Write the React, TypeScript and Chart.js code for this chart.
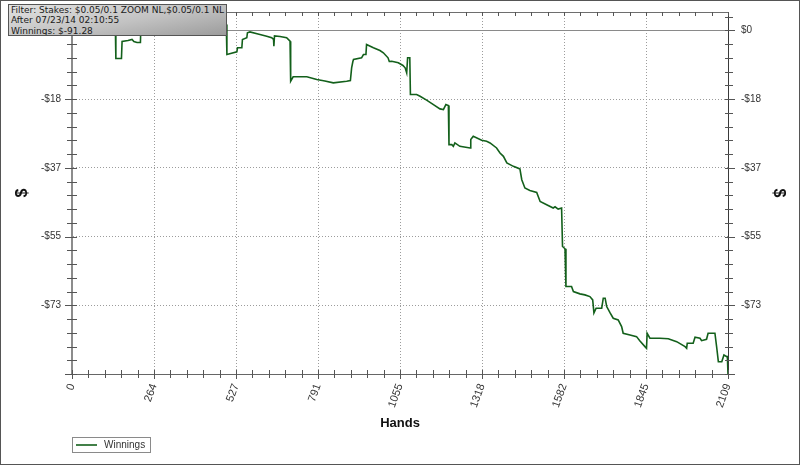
import React, { useEffect, useRef } from 'react';
import { Chart, registerables } from 'chart.js';

Chart.register(...registerables);

// ---- data ----
const hands = [
  0, 26, 58, 90, 116, 129, 139, 141, 159, 161, 180, 193, 199, 209, 220, 222, 283, 347, 412, 460,
  496, 498, 530, 532, 546, 548, 562, 564, 572, 598, 626, 642, 648, 649, 651, 669, 690, 701, 703, 711,
  755, 787, 813, 840, 883, 895, 899, 903, 905, 931, 937, 945, 947, 969, 990, 1001, 1016, 1020, 1028, 1049,
  1064, 1071, 1076, 1079, 1086, 1088, 1108, 1119, 1140, 1162, 1183, 1194, 1202, 1210, 1212, 1221, 1226, 1231, 1247, 1280,
  1282, 1290, 1317, 1333, 1344, 1365, 1376, 1387, 1398, 1419, 1440, 1446, 1456, 1472, 1494, 1505, 1526, 1547, 1553, 1563,
  1574, 1577, 1585, 1588, 1606, 1612, 1633, 1649, 1665, 1674, 1678, 1685, 1703, 1708, 1714, 1719, 1730, 1740, 1756, 1767,
  1772, 1794, 1815, 1826, 1842, 1847, 1849, 1858, 1890, 1917, 1944, 1971, 1976, 1978, 1997, 2003, 2019, 2024, 2040, 2045,
  2067, 2073, 2078, 2089, 2096, 2105, 2107, 2109,
];

const winnings = [
  1.06, 1.86, 2.93, 3.46, 4.26, 4.52, 2.93, -7.45, -7.45, -2.93, -2.66, -2.4, -2.93, -3.19, -3.19, 2.93, 4.26, 4.84, 3.46, 2.4,
  1.6, -6.39, -5.67, -4.6, -4.6, -2.4, -1.94, -0.61, -0.4, -0.93, -1.52, -1.94, -2.4, -4.18, -1.46, -1.6, -1.94, -2.85, -13.49, -12.32,
  -12.32, -13.04, -13.44, -13.92, -13.49, -13.31, -9.93, -8.25, -7.72, -7.27, -6.39, -6.39, -3.73, -4.6, -5.32, -5.93, -7.27, -8.25, -8.17, -8.6,
  -9.31, -9.93, -11.26, -7.27, -7.27, -17.03, -17.03, -17.48, -18.5, -19.69, -20.84, -21.02, -19.69, -19.96, -30.34, -30.34, -30.79, -29.89, -30.79, -31.22,
  -29.01, -28.13, -29.19, -29.46, -29.89, -31.22, -32.55, -33.45, -35.21, -36.11, -36.8, -39.65, -41.86, -42.5, -43.03, -45.43, -46.3, -47.18, -46.84, -47.45,
  -47.18, -57.4, -58.01, -68.05, -68.05, -69.38, -69.99, -70.26, -70.71, -71.59, -75.05, -73.8, -73.8, -71.14, -71.14, -73.37, -75.05, -76.46, -76.91, -78.69,
  -80.45, -80.9, -81.35, -82.5, -84.01, -84.44, -80.45, -81.78, -81.78, -81.91, -82.68, -84.01, -84.44, -83.11, -83.11, -81.51, -81.78, -82.42, -82.05, -80.45,
  -80.45, -84.44, -88.01, -88.01, -86.22, -86.67, -86.67, -91.28,
];

const xTickLabels = ['0', '264', '527', '791', '1055', '1318', '1582', '1845', '2109'];
const yTickLabels = ['$0', '-$18', '-$37', '-$55', '-$73'];
const infoLines = [
  'Filter: Stakes: $0.05/0.1 ZOOM NL,$0.05/0.1 NL',
  'After 07/23/14 02:10:55',
  'Winnings: $-91.28',
];
const seriesLabel = 'Winnings';

const HANDS_MAX = 2109;
const Y_MIN = -91.28;
const Y_MAX = 4.9;
const Y_STEP = -Y_MIN / 5;
const X_STEP = HANDS_MAX / 8;

const FONT = '"Liberation Sans", Arial, sans-serif';
const LINE_COLOR = '#13601b';

const majorIndexX = (v: number) => {
  const k = v / X_STEP;
  return Math.abs(k - Math.round(k)) < 1e-6 ? Math.round(k) : -1;
};
const majorIndexY = (v: number) => {
  const k = -v / Y_STEP;
  return Math.abs(k - Math.round(k)) < 1e-6 ? Math.round(k) : -1;
};

const buildXTicks = (scale: any) => {
  const t: any[] = [];
  for (let i = 0; i <= 40; i++) t.push({ value: (i * HANDS_MAX) / 40 });
  scale.ticks = t;
};
const buildYTicks = (scale: any) => {
  const t: any[] = [];
  for (let i = 0; ; i++) {
    const v = Y_MIN + (i * Y_STEP) / 5;
    if (v > Y_MAX + 1e-9) break;
    t.push({ value: Math.abs(v) < 1e-9 ? 0 : v });
  }
  scale.ticks = t;
};

const yLabel = (v: any) => {
  const k = majorIndexY(Number(v));
  return k >= 0 && k < yTickLabels.length ? yTickLabels[k] : '';
};

const fitY = (s: any) => {
  s.width = 72;
  s.paddingTop = 0;
  s.paddingBottom = 0;
};
const fitX = (s: any) => {
  s.height = 91;
  s.paddingLeft = 0;
  s.paddingRight = 0;
};

const frameTicks = {
  id: 'frameTicks',
  afterDatasetsDraw(chart: any) {
    const { ctx, chartArea: a } = chart;
    const xs = chart.scales.x;
    const ys = chart.scales.y;
    const p = (v: number) => Math.round(v) + 0.5;
    ctx.save();
    ctx.lineWidth = 1;
    ctx.strokeStyle = '#6e6e6e';
    ctx.beginPath();
    ctx.moveTo(a.left, p(a.top));
    ctx.lineTo(a.right, p(a.top));
    ctx.stroke();
    ctx.strokeStyle = '#555';
    ctx.beginPath();
    xs.ticks.forEach((t: any) => {
      const x = p(xs.getPixelForValue(t.value));
      const major = majorIndexX(t.value) >= 0;
      ctx.moveTo(x, a.bottom - 4);
      ctx.lineTo(x, a.bottom + (major ? 5 : 4));
      ctx.moveTo(x, a.top);
      ctx.lineTo(x, a.top + 4);
    });
    ys.ticks.forEach((t: any) => {
      const y = p(ys.getPixelForValue(t.value));
      const major = majorIndexY(t.value) >= 0;
      ctx.moveTo(a.left - (major ? 7 : 5), y);
      ctx.lineTo(a.left + 5, y);
      ctx.moveTo(a.right - 3, y);
      ctx.lineTo(a.right + (major ? 7 : 5), y);
    });
    ctx.stroke();
    ctx.restore();
  },
};

const boxLegend = {
  id: 'boxLegend',
  afterDraw(chart: any) {
    const ds = chart.data.datasets[0];
    const { ctx, chartArea: a } = chart;
    const x0 = a.left;
    const y0 = 437;
    ctx.save();
    ctx.strokeStyle = '#8a8a8a';
    ctx.lineWidth = 1;
    ctx.strokeRect(x0 + 0.5, y0 + 0.5, 78, 15);
    ctx.strokeStyle = ds.borderColor;
    ctx.lineWidth = 1.6;
    ctx.beginPath();
    ctx.moveTo(x0 + 4, y0 + 8);
    ctx.lineTo(x0 + 25, y0 + 8);
    ctx.stroke();
    ctx.fillStyle = '#333';
    ctx.font = '10px ' + FONT;
    ctx.textBaseline = 'middle';
    ctx.textAlign = 'left';
    ctx.fillText(ds.label, x0 + 32, y0 + 8.5);
    ctx.restore();
  },
};

export default function App() {
  const ref = useRef<HTMLCanvasElement | null>(null);

  useEffect(() => {
    if (!ref.current) return;
    const tickFont = { family: FONT, size: 10 };
    const chart = new Chart(ref.current, {
      type: 'line',
      data: {
        datasets: [
          {
            label: seriesLabel,
            data: hands.map((h, i) => ({ x: h, y: winnings[i] })),
            borderColor: LINE_COLOR,
            backgroundColor: LINE_COLOR,
            borderWidth: 1.6,
            pointRadius: 0,
            tension: 0,
            fill: false,
            xAxisID: 'x',
            yAxisID: 'y',
          },
        ],
      },
      options: {
        animation: false,
        responsive: false,
        devicePixelRatio: 1,
        layout: { padding: { top: 12, left: 0, right: 0, bottom: 0 } },
        plugins: { legend: { display: false }, tooltip: { enabled: false } },
        scales: {
          x: {
            type: 'linear',
            position: 'bottom',
            min: 0,
            max: HANDS_MAX,
            afterBuildTicks: buildXTicks,
            afterFit: fitX,
            ticks: {
              autoSkip: false,
              minRotation: 70,
              maxRotation: 70,
              padding: 8,
              font: { family: FONT, size: 11 },
              color: '#333',
              callback: (_v: any, i: number) => (i % 5 === 0 ? xTickLabels[i / 5] : ''),
            },
            grid: {
              drawTicks: false,
              lineWidth: 1,
              color: (c: any) => {
                const k = c.tick ? majorIndexX(c.tick.value) : -1;
                return k > 0 && k < 8 ? '#9c9c9c' : 'rgba(0,0,0,0)';
              },
            },
            border: { display: true, color: '#666', width: 1, dash: [1, 2] },
            title: {
              display: true,
              text: 'Hands',
              color: '#111',
              font: { family: FONT, size: 13, weight: 'bold' },
              padding: { top: 0, bottom: 34 },
            },
          },
          y: {
            type: 'linear',
            position: 'left',
            min: Y_MIN,
            max: Y_MAX,
            afterBuildTicks: buildYTicks,
            afterFit: fitY,
            ticks: { padding: 11, font: tickFont, color: '#333', callback: yLabel, autoSkip: false },
            grid: {
              drawTicks: false,
              lineWidth: 1,
              color: (c: any) => {
                if (!c.tick) return 'rgba(0,0,0,0)';
                if (Math.abs(c.tick.value) < 1e-6) return '#8a8a8a';
                const k = majorIndexY(c.tick.value);
                return k >= 1 && k <= 4 ? '#9c9c9c' : 'rgba(0,0,0,0)';
              },
            },
            border: {
              display: true,
              color: '#8c8c8c',
              width: 2,
              dash: (c: any) => (c.tick && Math.abs(c.tick.value) < 1e-6 ? [] : [1, 2]),
            },
            title: {
              display: true,
              text: '$',
              color: '#111',
              font: { family: FONT, size: 16, weight: 'bold' },
              padding: { top: 13, bottom: 0 },
            },
          },
          y2: {
            type: 'linear',
            position: 'right',
            min: Y_MIN,
            max: Y_MAX,
            afterBuildTicks: buildYTicks,
            afterFit: fitY,
            ticks: { padding: 13, font: tickFont, color: '#333', callback: yLabel, autoSkip: false },
            grid: { drawOnChartArea: false, drawTicks: false },
            border: { display: true, color: '#3a3a3a', width: 1 },
            title: {
              display: true,
              text: '$',
              color: '#111',
              font: { family: FONT, size: 16, weight: 'bold' },
              padding: { top: 12, bottom: 0 },
            },
          },
        },
      } as any,
      plugins: [frameTicks, boxLegend],
    });
    return () => chart.destroy();
  }, []);

  return (
    <div
      style={{
        position: 'fixed',
        left: 0,
        top: 0,
        width: 800,
        height: 465,
        background: '#fff',
        overflow: 'hidden',
      }}
    >
      <canvas
        ref={ref}
        width={800}
        height={465}
        style={{ position: 'absolute', left: 0, top: 0, width: 800, height: 465 }}
      />
      <div
        style={{
          position: 'absolute',
          left: 8,
          top: 4,
          width: 219,
          height: 32,
          boxSizing: 'border-box',
          border: '1px solid #555',
          background: 'linear-gradient(170deg, #e2e2e2 0%, #c2c2c2 55%, #9c9c9c 100%)',
          fontFamily: '"DejaVu Sans", Verdana, sans-serif',
          fontSize: 9,
          lineHeight: '10.4px',
          color: '#1a1a1a',
          paddingLeft: 2,
          whiteSpace: 'nowrap',
          overflow: 'hidden',
        }}
      >
        {infoLines.map((t) => (
          <div key={t}>{t}</div>
        ))}
      </div>
      <div
        style={{
          position: 'absolute',
          left: 0,
          top: 0,
          width: 800,
          height: 465,
          boxSizing: 'border-box',
          border: '1px solid #555',
          pointerEvents: 'none',
        }}
      />
    </div>
  );
}
